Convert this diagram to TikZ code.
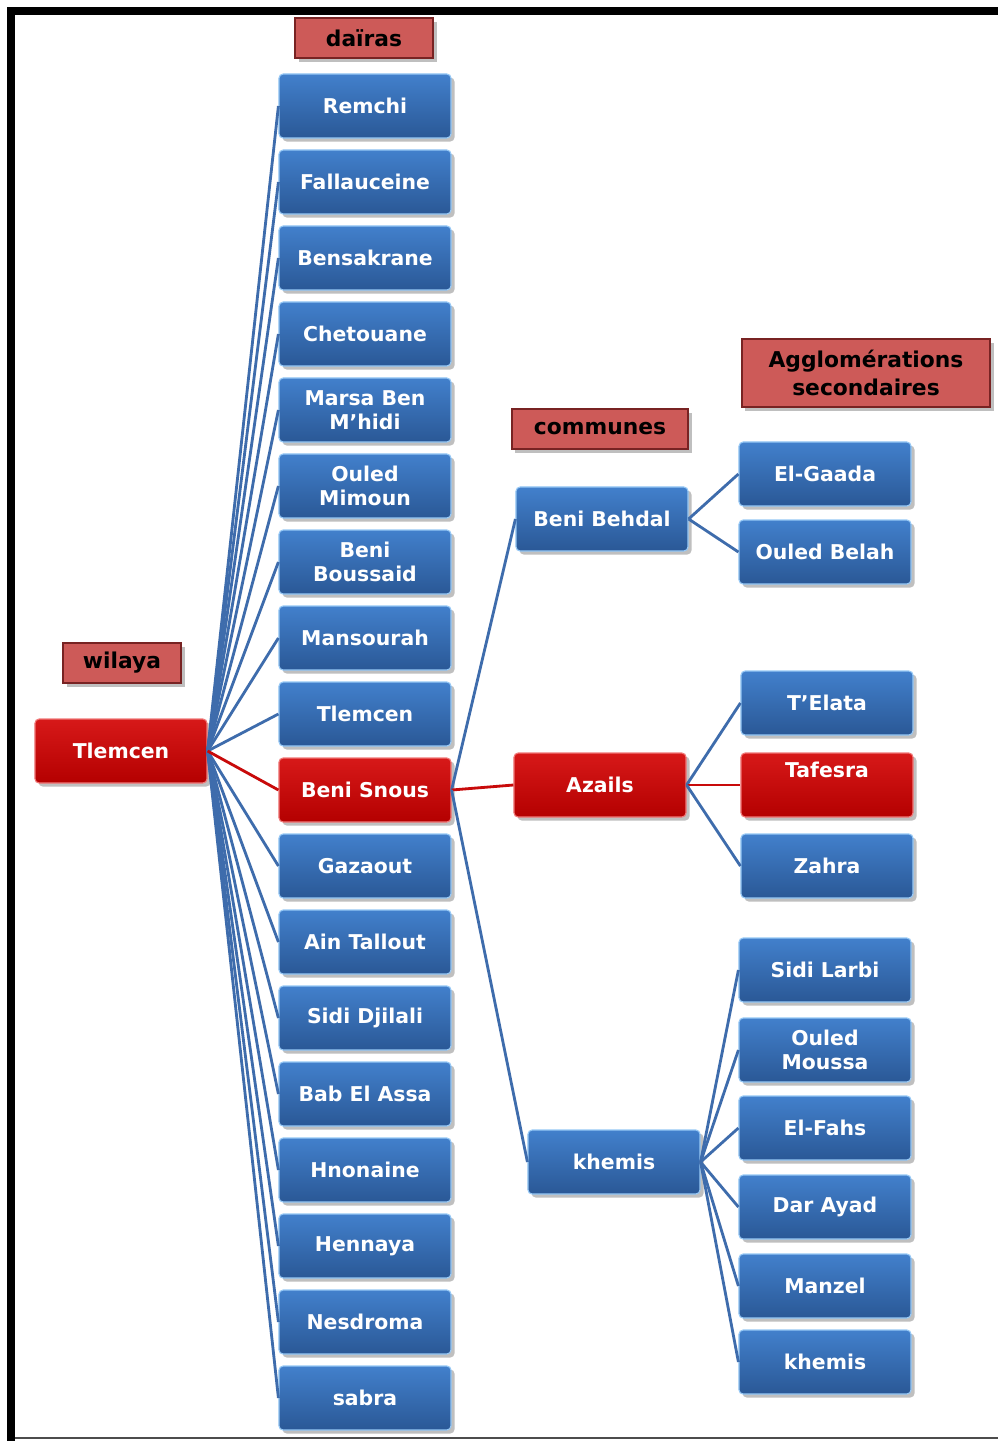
\documentclass[tikz,border=0pt]{standalone}
\usepackage{fontspec}
\setmainfont{DejaVu Sans}
\usetikzlibrary{shadows}
\definecolor{blueT}{RGB}{66,128,204}
\definecolor{blueB}{RGB}{42,88,150}
\definecolor{blueE}{RGB}{150,200,245}
\definecolor{lineB}{RGB}{62,108,172}
\definecolor{redT}{RGB}{215,25,25}
\definecolor{redB}{RGB}{180,0,0}
\definecolor{redE}{RGB}{240,120,120}
\definecolor{lineR}{RGB}{200,10,10}
\definecolor{labF}{RGB}{205,90,88}
\definecolor{labE}{RGB}{120,35,35}
\tikzset{
  bx/.style={rounded corners=3pt, draw=blueE, line width=0.8pt, top color=blueT, bottom color=blueB,
    text=white, font=\bfseries\fontsize{14.5}{17}\selectfont, align=center,
    minimum width=4.3cm, minimum height=1.6cm, inner sep=1pt,
    drop shadow={shadow xshift=2.5pt, shadow yshift=-2.5pt, opacity=0.5}},
  rbx/.style={bx, draw=redE, top color=redT, bottom color=redB},
  lab/.style={draw=labE, line width=1.2pt, fill=labF, text=black, font=\bfseries\fontsize{15.5}{20.5}\selectfont,
    align=center, inner sep=1pt,
    drop shadow={shadow xshift=2.5pt, shadow yshift=-2.5pt, opacity=0.5}},
  conn/.style={draw=lineB, line width=2pt},
  rconn/.style={draw=lineR, line width=2pt},
}
\begin{document}
\begin{tikzpicture}[x=0.025cm, y=-0.025cm]
\useasboundingbox (0,0) rectangle (998,1441);
\fill[white] (0,0) rectangle (998,1441);
% frame
\draw[line width=5.7pt, black] (11,1441) -- (11,11) -- (998,11);
\draw[line width=1.5pt, black!70] (15,1438) -- (998,1438);
% headers
\node[lab, minimum width=3.45cm, minimum height=1.0cm] (hd) at (364,38) {daïras};
\node[lab, minimum width=2.95cm, minimum height=1.0cm] (hw) at (122,663) {wilaya};
\node[lab, minimum width=4.4cm, minimum height=1.0cm] (hc) at (600,429) {communes};
\node[lab, minimum width=6.2cm, minimum height=1.7cm] (ha) at (866,373) {Agglomérations\\secondaires};
% root
\node[rbx] (root) at (121,751) {Tlemcen};
% dairas
\node[bx] (d1) at (365,106) {Remchi};
\node[bx] (d2) at (365,182) {Fallauceine};
\node[bx] (d3) at (365,258) {Bensakrane};
\node[bx] (d4) at (365,334) {Chetouane};
\node[bx] (d5) at (365,410) {Marsa Ben\\M’hidi};
\node[bx] (d6) at (365,486) {Ouled\\Mimoun};
\node[bx] (d7) at (365,562) {Beni\\Boussaid};
\node[bx] (d8) at (365,638) {Mansourah};
\node[bx] (d9) at (365,714) {Tlemcen};
\node[rbx] (d10) at (365,790) {Beni Snous};
\node[bx] (d11) at (365,866) {Gazaout};
\node[bx] (d12) at (365,942) {Ain Tallout};
\node[bx] (d13) at (365,1018) {Sidi Djilali};
\node[bx] (d14) at (365,1094) {Bab El Assa};
\node[bx] (d15) at (365,1170) {Hnonaine};
\node[bx] (d16) at (365,1246) {Hennaya};
\node[bx] (d17) at (365,1322) {Nesdroma};
\node[bx] (d18) at (365,1398) {sabra};
% communes
\node[bx] (c1) at (602,519) {Beni Behdal};
\node[rbx] (c2) at (600,785) {Azails};
\node[bx] (c3) at (614,1162) {khemis};
% agglomerations
\node[bx] (a1) at (825,474) {El-Gaada};
\node[bx] (a2) at (825,552) {Ouled Belah};
\node[bx] (a3) at (827,703) {T’Elata};
\node[rbx] (a4) at (827,785) {Tafesra\\[4pt]~};
\node[bx] (a5) at (827,866) {Zahra};
\node[bx] (a6) at (825,970) {Sidi Larbi};
\node[bx] (a7) at (825,1050) {Ouled\\Moussa};
\node[bx] (a8) at (825,1128) {El-Fahs};
\node[bx] (a9) at (825,1207) {Dar Ayad};
\node[bx] (a10) at (825,1286) {Manzel};
\node[bx] (a11) at (825,1362) {khemis};
% connectors
\foreach \i in {1,...,9,11,12,13,14,15,16,17,18} {\draw[conn] (root.east) -- (d\i.west);}
\draw[rconn] (root.east) -- (d10.west);
\draw[conn] (d10.east) -- (c1.west);
\draw[rconn] (d10.east) -- (c2.west);
\draw[conn] (d10.east) -- (c3.west);
\draw[conn] (c1.east) -- (a1.west);
\draw[conn] (c1.east) -- (a2.west);
\draw[conn] (c2.east) -- (a3.west);
\draw[rconn] (c2.east) -- (a4.west);
\draw[conn] (c2.east) -- (a5.west);
\foreach \i in {6,...,11} {\draw[conn] (c3.east) -- (a\i.west);}
\end{tikzpicture}
\end{document}
